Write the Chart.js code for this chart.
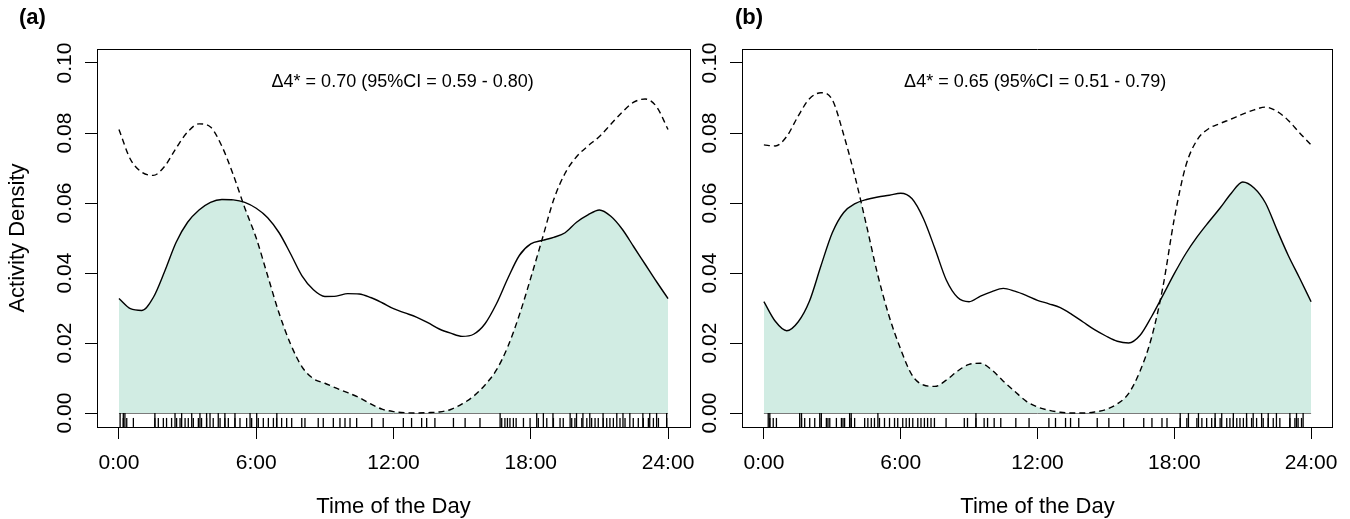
<!DOCTYPE html>
<html><head><meta charset="utf-8">
<script src="https://cdn.jsdelivr.net/npm/chart.js@4.4.1/dist/chart.umd.min.js"></script>
<style>
html,body{margin:0;padding:0;background:#fff;width:1350px;height:519px;overflow:hidden;}
canvas{position:absolute;top:0;}
#ca{left:0;} #cb{left:645px;}
</style></head><body>
<canvas id="ca" width="720" height="519"></canvas>
<canvas id="cb" width="705" height="519"></canvas>
<script>
// ---- data ----
const hours = [0,0.5,1,1.5,2,2.5,3,3.5,4,4.5,5,5.5,6,6.5,7,7.5,8,8.5,9,9.5,10,10.5,11,11.5,12,12.5,13,13.5,14,14.5,15,15.5,16,16.5,17,17.5,18,18.5,19,19.5,20,20.5,21,21.5,22,22.5,23,23.5,24];

const solidA = [0.0327,0.0298,0.0293,0.0330,0.0405,0.0488,0.0545,0.0580,0.0602,0.0610,0.0609,0.0602,0.0585,0.0558,0.0515,0.0455,0.0392,0.0352,0.0333,0.0334,0.0341,0.0340,0.0330,0.0315,0.0298,0.0286,0.0274,0.0258,0.0240,0.0228,0.0219,0.0225,0.0255,0.0312,0.0385,0.0450,0.0483,0.0493,0.0502,0.0515,0.0545,0.0566,0.0580,0.0562,0.0525,0.0475,0.0425,0.0375,0.0327];
const dashedA = [0.0810,0.0725,0.0688,0.0679,0.0705,0.0757,0.0803,0.0826,0.0817,0.0762,0.0680,0.0586,0.0500,0.0392,0.0285,0.0197,0.0132,0.0098,0.0085,0.0071,0.0058,0.0044,0.0026,0.0011,0.0004,0.0001,0.0000,0.0001,0.0003,0.0010,0.0026,0.0048,0.0080,0.0123,0.0190,0.0280,0.0386,0.0497,0.0609,0.0685,0.0732,0.0763,0.0790,0.0825,0.0860,0.0888,0.0897,0.0875,0.0810];
const solidB = [0.0318,0.0262,0.0235,0.0260,0.0320,0.0420,0.0515,0.0573,0.0598,0.0610,0.0617,0.0622,0.0628,0.0612,0.0555,0.0470,0.0380,0.0330,0.0318,0.0334,0.0347,0.0356,0.0348,0.0336,0.0322,0.0312,0.0301,0.0282,0.0260,0.0238,0.0220,0.0205,0.0200,0.0222,0.0275,0.0336,0.0398,0.0455,0.0503,0.0545,0.0585,0.0628,0.0660,0.0643,0.0600,0.0524,0.0450,0.0385,0.0318];
const dashedB = [0.0766,0.0763,0.0790,0.0848,0.0898,0.0915,0.0895,0.0795,0.0674,0.0536,0.0393,0.0275,0.0182,0.0108,0.0080,0.0076,0.0094,0.0120,0.0139,0.0142,0.0123,0.0091,0.0062,0.0034,0.0017,0.0008,0.0002,0.0000,0.0000,0.0003,0.0010,0.0026,0.0056,0.0120,0.0215,0.0360,0.0555,0.0705,0.0780,0.0812,0.0827,0.0840,0.0854,0.0866,0.0874,0.0862,0.0836,0.0800,0.0766];

const rugTallA = [0.05,0.19,0.26,1.57,2.45,2.74,3.18,3.54,3.83,3.98,4.34,4.63,5.07,5.73,6.02,6.9,16.66,18.26,18.55,18.97,19.72,20.0,20.28,20.58,21.16,21.76,22.03,22.33,22.9,23.2,23.5,23.94];
const rugShortA = [0.19,0.34,0.63,1.57,1.72,1.94,2.08,2.3,2.52,2.67,2.89,3.03,3.25,3.47,3.61,3.83,4.12,4.42,4.63,4.78,5.07,5.29,5.58,5.8,6.09,6.31,6.53,6.75,6.89,7.11,7.33,7.55,7.99,8.13,8.71,8.93,9.37,9.66,9.88,10.1,10.39,11.05,11.55,12.43,12.79,13.23,13.45,13.81,14.62,15.13,15.78,16.73,16.87,16.98,17.09,17.24,17.36,17.68,17.97,18.33,18.7,18.99,19.28,19.42,19.79,19.93,20.23,20.45,20.66,20.81,20.95,21.17,21.32,21.46,21.61,21.9,22.12,22.48,22.7,22.92,23.14,23.36,23.58,23.94];
const rugTallB = [0.19,0.26,1.57,1.65,2.45,2.52,3.76,3.83,5.0,9.3,18.26,18.62,19.06,19.79,20.08,20.59,21.17,21.46,21.83,22.12,22.48,23.07,23.36,23.65];
const rugShortB = [0.26,0.41,0.55,1.65,1.79,2.01,2.23,2.52,2.74,2.81,2.89,3.18,3.4,3.47,3.54,3.83,3.98,4.42,4.56,4.71,4.85,5.07,5.29,5.51,5.73,5.87,6.09,6.24,6.38,6.53,6.75,6.89,7.04,7.18,7.33,7.48,7.99,8.79,8.93,9.3,9.66,9.81,10.1,10.39,11.05,11.63,12.5,12.79,13.23,13.45,13.81,14.62,15.13,15.78,16.66,17.02,17.46,17.68,18.26,18.55,18.99,19.21,19.42,19.64,19.79,20.01,20.3,20.44,20.59,20.74,20.88,21.03,21.17,21.39,21.61,21.9,22.12,22.34,22.63,23.07,23.29,23.43,23.58];

const xTickValues = [0,6,12,18,24];
const xTickLabels = ['0:00','6:00','12:00','18:00','24:00'];
const yTickValues = [0,0.02,0.04,0.06,0.08,0.10];
const yTickLabels = ['0.00','0.02','0.04','0.06','0.08','0.10'];
const panelLabels = ['(a)','(b)'];
const notes = ['\u03944* = 0.70 (95%CI = 0.59 - 0.80)','\u03944* = 0.65 (95%CI = 0.51 - 0.79)'];
const xTitle = 'Time of the Day';
const yTitle = 'Activity Density';

// ---- style ----
const FONT = '"Liberation Sans", Arial, Helvetica, sans-serif';
const TICK_FS = 21, NOTE_FS = 18, TITLE_FS = 22, LABEL_FS = 22;
const FILL = '#d1ece3';
const X_MIN = -0.96, X_MAX = 24.96, Y_MIN = -0.004, Y_MAX = 0.104;
const RUG_TALL_Y = -0.002, RUG_SHORT_Y = -0.0027;

const overlapPlugin = {
  id: 'overlapFill',
  beforeDatasetsDraw(chart) {
    const ctx = chart.ctx, x = chart.scales.x, y = chart.scales.y;
    const y0 = y.getPixelForValue(0);
    const a = chart.getDatasetMeta(0).dataset, b = chart.getDatasetMeta(1).dataset;
    const trace = el => {
      ctx.beginPath();
      el.path(ctx);
      const p = el.points;
      ctx.lineTo(p[p.length-1].x, y0);
      ctx.lineTo(p[0].x, y0);
      ctx.closePath();
    };
    ctx.save();
    trace(a); ctx.clip();
    trace(b); ctx.fillStyle = FILL; ctx.fill();
    ctx.restore();
    ctx.save();
    ctx.strokeStyle = '#7a7a7a'; ctx.lineWidth = 1;
    ctx.beginPath();
    ctx.moveTo(x.getPixelForValue(0), Math.round(y0)+0.5);
    ctx.lineTo(x.getPixelForValue(24), Math.round(y0)+0.5);
    ctx.stroke();
    ctx.restore();
  },
  afterDraw(chart, args, opts) {
    const ctx = chart.ctx, x = chart.scales.x, y = chart.scales.y;
    ctx.save();
    ctx.fillStyle = '#000';
    ctx.font = NOTE_FS + 'px ' + FONT;
    ctx.textAlign = 'center'; ctx.textBaseline = 'middle';
    ctx.fillText(opts.note, x.getPixelForValue(opts.noteX), y.getPixelForValue(opts.noteY));
    ctx.font = 'bold ' + LABEL_FS + 'px ' + FONT;
    ctx.textAlign = 'left';
    ctx.fillText(opts.label, opts.labelX, opts.labelY);
    ctx.restore();
  }
};

function pts(vals){ return hours.map((h,i)=>({x:h, y:vals[i]})); }
function rug(times, yv){ return times.map(t=>({x:t, y:yv})); }

function makePanel(id, width, solid, dashed, rugTall, rugShort, idx, showYTitle, noteX, labelX){
  const boxRight = 690;
  return new Chart(document.getElementById(id), {
    type: 'line',
    data: { datasets: [
      { data: pts(solid), borderColor:'#000', borderWidth:1.4, pointRadius:0, cubicInterpolationMode:'monotone', fill:false },
      { data: pts(dashed), borderColor:'#000', borderWidth:1.4, borderDash:[6,4], pointRadius:0, cubicInterpolationMode:'monotone', fill:false },
      { data: rug(rugTall, RUG_TALL_Y), showLine:false, pointStyle:'line', pointRotation:90, pointRadius:7, pointBorderColor:'#000', pointBorderWidth:1.3, clip:false },
      { data: rug(rugShort, RUG_SHORT_Y), showLine:false, pointStyle:'line', pointRotation:90, pointRadius:4.5, pointBorderColor:'#000', pointBorderWidth:1.3, clip:false }
    ]},
    plugins: [overlapPlugin],
    options: {
      responsive:false, animation:false, events:[], devicePixelRatio:1,
      layout:{ padding:{ top:49, right: width - boxRight, left:0, bottom:0 } },
      plugins:{
        legend:{display:false}, tooltip:{enabled:false},
        overlapFill:{ note: notes[idx], noteX: noteX, noteY: 0.0946, label: panelLabels[idx], labelX: labelX, labelY: 18 }
      },
      scales:{
        x:{ type:'linear', position:'bottom', min:X_MIN, max:X_MAX,
            afterBuildTicks: s => { s.ticks = xTickValues.map(v=>({value:v})); },
            afterFit: s => { s.height = 92; },
            grid:{ drawOnChartArea:false, drawTicks:true, tickLength:12, color:'#000', lineWidth:1 },
            border:{ display:true, color:'#000', width:1 },
            ticks:{ autoSkip:false, maxRotation:0, minRotation:0, padding:12, color:'#000', font:{family:FONT, size:TICK_FS}, callback:(v,i)=>xTickLabels[i] },
            title:{ display:true, text:xTitle, color:'#000', font:{family:FONT, size:TITLE_FS}, padding:{top:0, bottom:-1} }
        },
        y:{ type:'linear', position:'left', min:Y_MIN, max:Y_MAX,
            afterBuildTicks: s => { s.ticks = yTickValues.map(v=>({value:v})); },
            afterFit: s => { s.width = 97; },
            grid:{ drawOnChartArea:false, drawTicks:true, tickLength:12, color:'#000', lineWidth:1 },
            border:{ display:true, color:'#000', width:1 },
            ticks:{ autoSkip:false, minRotation:90, maxRotation:90, crossAlign:'center', padding:-1, color:'#000', font:{family:FONT, size:TICK_FS}, callback:(v,i)=>yTickLabels[i] },
            title:{ display:showYTitle, text:yTitle, color:'#000', font:{family:FONT, size:TITLE_FS}, padding:{top:5, bottom:0} }
        },
        x2:{ type:'linear', position:'top', min:X_MIN, max:X_MAX,
             afterFit: s => { s.height = 0; },
             grid:{display:false}, ticks:{display:false},
             border:{ display:true, color:'#000', width:1 } },
        y2:{ type:'linear', position:'right', min:Y_MIN, max:Y_MAX,
             afterFit: s => { s.width = 0; },
             grid:{display:false}, ticks:{display:false},
             border:{ display:true, color:'#000', width:1 } }
      }
    }
  });
}

makePanel('ca', 720, solidA, dashedA, rugTallA, rugShortA, 0, true, 12.4, 19);
makePanel('cb', 705, solidB, dashedB, rugTallB, rugShortB, 1, false, 11.9, 90);
</script></body></html>
